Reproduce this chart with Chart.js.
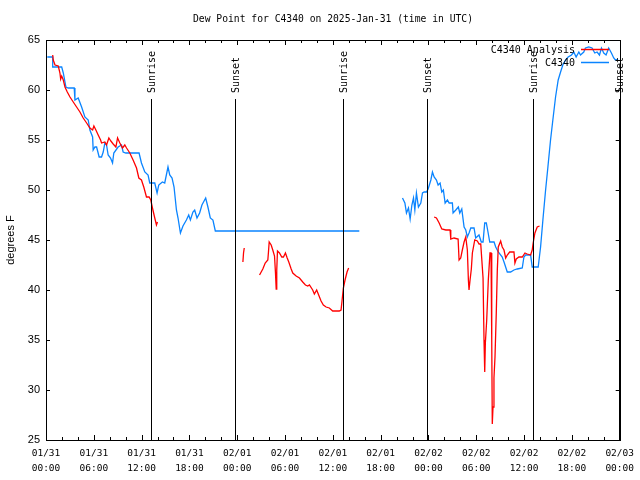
<!DOCTYPE html>
<html>
<head>
<meta charset="utf-8">
<script src="https://cdn.jsdelivr.net/npm/chart.js@4.4.1/dist/chart.umd.min.js"></script>
<style>
  html, body { margin: 0; padding: 0; background: #fff; }
  canvas { display: block; }
</style>
</head>
<body>
<canvas id="GraficoDewPoint" width="640" height="480"></canvas>
<script>
// horas desde 01/31 00:00 UTC
const diasEje = ["01/31", "01/31", "01/31", "01/31", "02/01", "02/01", "02/01", "02/01", "02/02", "02/02", "02/02", "02/02", "02/03"];
const horasEje = ["00:00", "06:00", "12:00", "18:00", "00:00", "06:00", "12:00", "18:00", "00:00", "06:00", "12:00", "18:00", "00:00"];

const eventosSol = ["Sunrise", "Sunset", "Sunrise", "Sunset", "Sunrise", "Sunset"];
const horasSol = [13.14, 23.78, 37.23, 47.87, 61.15, 71.92];

// C4340 (observacion)
const obsHoras = [0.16, 0.84, 0.84, 1.97, 2.17, 2.50, 2.79, 3.54, 3.63, 4.04, 4.47, 4.88, 5.30, 5.51, 5.85, 5.92,
  6.14, 6.35, 6.67, 6.97, 7.18, 7.39, 7.60, 7.80, 8.10, 8.35, 8.51, 9.05, 9.48, 9.68, 10.02, 11.68,
  11.98, 12.40, 12.81, 13.02, 13.65, 13.94, 14.15, 14.61, 14.90, 15.31, 15.53, 15.82, 16.07, 16.37, 16.57, 16.87,
  17.19, 17.62, 17.91, 18.12, 18.44, 18.66, 18.95, 19.28, 19.57, 20.04, 20.32, 20.62, 20.95, 21.25, 39.32,
  42.0,
  44.74, 45.04, 45.24, 45.49, 45.70, 45.92, 46.12, 46.29, 46.49, 46.74, 47.04, 47.25, 47.46, 47.75, 47.96, 48.30,
  48.50, 48.71, 49.00, 49.21, 49.46, 49.67, 49.87, 50.09, 50.38, 50.59, 51.00, 51.09, 51.43, 51.75, 51.93, 52.18,
  52.47, 52.68, 52.88, 53.09, 53.31, 53.72, 53.93, 54.34, 54.63, 54.85, 55.06, 55.26, 55.47, 55.69, 56.23, 56.44,
  56.76, 57.26, 57.48, 57.89, 58.31, 58.73, 59.14, 59.77, 59.98, 60.19, 60.82, 61.02, 61.77, 62.07, 62.36, 62.70,
  62.99, 63.32, 63.61, 63.95, 64.28, 64.58, 64.86, 65.20, 65.53, 65.95, 66.24, 66.53, 66.87, 67.08, 67.49, 67.70,
  68.12, 68.53, 68.87, 69.16, 69.46, 69.71, 70.00, 70.29, 70.62, 70.96, 71.25, 71.46, 71.79];
const obsValores = [63.3, 63.3, 62.3, 62.3, 61.7, 60.3, 60.2, 60.2, 59.0, 59.2, 58.3, 57.3, 57.0, 56.0, 55.3, 54.0,
  54.3, 54.3, 53.3, 53.3, 53.8, 54.7, 54.5, 53.5, 53.2, 52.7, 53.7, 54.3, 54.5, 53.8, 53.7, 53.7,
  52.7, 51.8, 51.5, 50.7, 50.7, 49.7, 50.5, 50.8, 50.7, 52.3, 51.5, 51.2, 50.3, 48.0, 47.2, 45.7,
  46.4, 47.0, 47.5, 47.0, 47.8, 48.0, 47.2, 47.7, 48.5, 49.2, 48.3, 47.2, 47.0, 45.9, 45.9,
  null,
  49.2, 48.7, 47.7, 48.2, 47.1, 48.5, 49.2, 48.0, 49.7, 48.3, 48.7, 49.7, 49.8, 49.8, 50.1, 51.0,
  51.8, 51.3, 51.0, 50.5, 50.7, 49.8, 50.0, 48.7, 49.0, 48.7, 48.7, 47.7, 48.0, 48.3, 47.7, 48.1,
  46.3, 46.0, 45.3, 45.7, 46.2, 46.2, 45.2, 45.5, 44.8, 44.8, 46.7, 46.7, 45.8, 44.8, 44.8, 44.3,
  43.8, 43.3, 42.8, 41.8, 41.8, 42.0, 42.1, 42.2, 43.3, 43.5, 43.5, 42.3, 42.3, 44.3, 47.0, 50.0,
  52.3, 55.0, 57.0, 59.3, 61.0, 61.8, 62.5, 63.0, 63.3, 63.5, 63.8, 63.3, 63.8, 63.5, 63.8, 64.2,
  64.3, 64.2, 63.7, 63.8, 63.5, 64.2, 63.7, 63.5, 64.2, 63.7, 63.2, 63.0, 63.1];

// C4340 Analysis
const anaHoras = [0.84, 0.91, 1.13, 1.54, 1.75, 1.84, 1.97, 2.17, 2.38, 2.67, 3.01, 3.42, 3.84, 4.26, 4.67, 5.10,
  5.51, 5.85, 6.01, 6.26, 6.55, 6.85, 6.97, 7.39, 7.60, 7.89, 8.14, 8.43, 8.77, 8.98, 9.27, 9.60,
  9.89, 10.11, 10.52, 10.93, 11.36, 11.65, 11.98, 12.27, 12.61, 12.94, 13.15, 13.36, 13.65, 13.86, 13.99,
  19.0,
  24.71, 24.79, 24.88,
  25.8,
  26.80, 27.21, 27.51, 27.84, 27.92, 28.01, 28.26, 28.46, 28.68, 28.80, 28.89, 28.96, 29.05, 29.30, 29.59, 29.80,
  30.05, 30.27, 30.47, 30.77, 30.97, 31.39, 31.81, 32.22, 32.56, 32.85, 33.06, 33.47, 33.68, 33.97, 34.22, 34.52,
  34.81, 35.15, 35.56, 35.98, 36.81, 37.03, 37.15, 37.32, 37.53, 37.78, 37.98,
  43.0,
  48.71, 49.00, 49.34, 49.67, 50.18, 50.71, 50.80, 51.21, 51.72, 51.84, 52.05, 52.25, 52.47, 52.68, 52.88, 53.01,
  53.09, 53.22, 53.38, 53.51, 53.81, 54.13, 54.35, 54.56, 54.85, 54.97, 55.06, 55.14, 55.31, 55.51, 55.72, 55.85,
  55.94, 56.01, 56.10, 56.22, 56.35, 56.51, 56.64, 56.76, 57.06, 57.26, 57.48, 57.69, 57.89, 58.19, 58.73, 58.85,
  59.02, 59.35, 59.77, 60.11, 60.39, 60.82, 61.02, 61.14, 61.36, 61.65, 61.94];
const anaValores = [63.5, 63.0, 62.5, 62.4, 61.7, 61.1, 61.4, 61.0, 60.3, 59.8, 59.3, 58.8, 58.3, 57.8, 57.2, 56.7,
  56.2, 56.0, 56.4, 56.0, 55.5, 55.0, 54.7, 54.8, 54.5, 55.2, 54.9, 54.6, 54.3, 55.2, 54.7, 54.2,
  54.5, 54.2, 53.7, 53.0, 52.2, 51.2, 51.0, 50.3, 49.3, 49.3, 49.0, 48.2, 47.2, 46.5, 46.8,
  null,
  42.8, 43.7, 44.2,
  null,
  41.5, 42.1, 42.7, 43.0, 43.8, 44.8, 44.5, 44.0, 43.4, 41.7, 40.1, 42.0, 43.9, 43.7, 43.3, 43.3,
  43.7, 43.2, 42.8, 42.1, 41.7, 41.4, 41.2, 40.8, 40.5, 40.4, 40.5, 40.0, 39.6, 40.0, 39.5, 38.9,
  38.5, 38.3, 38.2, 37.9, 37.9, 38.0, 38.9, 40.2, 41.0, 41.8, 42.2,
  null,
  47.3, 47.2, 46.7, 46.1, 46.0, 46.0, 45.1, 45.2, 45.1, 43.0, 43.2, 44.0, 44.8, 45.3, 44.0, 41.0,
  40.0, 41.0, 42.1, 43.7, 45.0, 44.9, 44.6, 44.6, 41.2, 35.0, 31.8, 34.7, 37.0, 41.0, 43.7, 43.7,
  35.0, 26.6, 28.3, 31.2, 33.3, 37.7, 42.0, 44.3, 44.9, 44.3, 44.0, 43.2, 43.5, 43.8, 43.8, 42.7,
  43.1, 43.3, 43.3, 43.7, 43.6, 43.5, 44.0, 44.7, 45.7, 46.3, 46.4];

const fuenteMono = "'DejaVu Sans Mono', 'Liberation Mono', monospace";
const fuenteSans = "'Liberation Sans', Arial, sans-serif";
const colorObs = "#0a84ff";
const colorAna = "#ff0000";

function Puntos(horas, valores) {
    let puntos = [];
    for (let i = 0; i < horas.length; i++) {
        puntos.push({ x: horas[i], y: valores[i] });
    }
    return puntos;
}

// marcas hacia adentro, como gnuplot, y el borde del grafico
const pluginMarcas = {
    id: 'marcas',
    afterDatasetsDraw(chart) {
        const ctx = chart.ctx;
        const area = chart.chartArea;
        const x = chart.scales.x;
        const y = chart.scales.y;
        ctx.save();
        ctx.strokeStyle = "#000";
        ctx.lineWidth = 1;
        ctx.beginPath();
        for (let h = x.min; h <= x.max; h += 2) {
            let px = Math.round(x.getPixelForValue(h)) + 0.5;
            let largo = (h % 6 === 0) ? 5 : 3;
            ctx.moveTo(px, area.bottom);
            ctx.lineTo(px, area.bottom - largo);
            ctx.moveTo(px, area.top);
            ctx.lineTo(px, area.top + largo);
        }
        y.ticks.forEach(function (t) {
            let py = Math.round(y.getPixelForValue(t.value)) + 0.5;
            ctx.moveTo(area.left, py);
            ctx.lineTo(area.left + 4, py);
            ctx.moveTo(area.right, py);
            ctx.lineTo(area.right - 4, py);
        });
        ctx.stroke();
        ctx.strokeRect(Math.round(area.left) + 0.5, Math.round(area.top) + 0.5,
            Math.round(area.right - area.left), Math.round(area.bottom - area.top));

        // lineas de salida y puesta del sol
        ctx.font = "10px " + fuenteMono;
        ctx.fillStyle = "#000";
        for (let i = 0; i < horasSol.length; i++) {
            let px = Math.round(x.getPixelForValue(horasSol[i])) + 0.5;
            ctx.beginPath();
            ctx.moveTo(px, area.top + 59);
            ctx.lineTo(px, area.bottom);
            ctx.stroke();
            ctx.save();
            ctx.translate(px + 1, area.top + 53);
            ctx.rotate(-Math.PI / 2);
            ctx.textAlign = "left";
            ctx.textBaseline = "middle";
            ctx.fillText(eventosSol[i], 0, 0);
            ctx.restore();
        }

        // leyenda
        const series = chart.data.datasets;
        ctx.textAlign = "right";
        ctx.textBaseline = "middle";
        for (let i = 0; i < series.length; i++) {
            let ly = area.top + 10 + i * 13;
            ctx.fillStyle = "#000";
            ctx.fillText(series[i].label, 575, ly);
            ctx.strokeStyle = series[i].borderColor;
            ctx.lineWidth = 1.5;
            ctx.beginPath();
            ctx.moveTo(581, ly - 0.5);
            ctx.lineTo(609, ly - 0.5);
            ctx.stroke();
        }
        ctx.restore();
    }
};

const pluginTitulo = {
    id: 'titulo',
    beforeDraw(chart) {
        const ctx = chart.ctx;
        ctx.save();
        ctx.fillStyle = "#fff";
        ctx.fillRect(0, 0, chart.width, chart.height);
        ctx.fillStyle = "#000";
        ctx.font = "9.7px " + fuenteMono;
        ctx.textAlign = "center";
        ctx.textBaseline = "middle";
        ctx.fillText("Dew Point for C4340 on 2025-Jan-31 (time in UTC)", 333, 19);
        ctx.restore();
    }
};

const ctx = document.getElementById("GraficoDewPoint");
const graficoDewPoint = new Chart(ctx, {
    type: 'line',
    data: {
        datasets: [{
            label: 'C4340 Analysis',
            data: Puntos(anaHoras, anaValores),
            borderColor: colorAna,
            borderWidth: 1.3,
            pointRadius: 0,
            spanGaps: false,
            tension: 0
        }, {
            label: 'C4340',
            data: Puntos(obsHoras, obsValores),
            borderColor: colorObs,
            borderWidth: 1.3,
            pointRadius: 0,
            spanGaps: false,
            tension: 0
        }]
    },
    options: {
        responsive: false,
        animation: false,
        devicePixelRatio: 1,
        layout: { padding: { top: 40, right: 19, left: 0, bottom: 0 } },
        plugins: {
            legend: { display: false },
            title: { display: false },
            tooltip: { enabled: false }
        },
        scales: {
            x: {
                type: 'linear',
                min: 0,
                max: 72,
                grid: { display: false, drawTicks: false },
                border: { display: false },
                afterFit: function (scale) { scale.height = 40; },
                ticks: {
                    stepSize: 6,
                    padding: 6,
                    maxRotation: 0,
                    autoSkip: false,
                    color: "#000",
                    font: { family: fuenteMono, size: 9.5, lineHeight: 1.55 },
                    callback: function (valor) {
                        let i = Math.round(valor / 6);
                        return [diasEje[i], horasEje[i]];
                    }
                }
            },
            y: {
                min: 25,
                max: 65,
                grid: { display: false, drawTicks: false },
                border: { display: false },
                afterFit: function (scale) { scale.width = 46; },
                title: {
                    display: true,
                    text: 'degrees F',
                    color: "#000",
                    padding: 4,
                    font: { family: fuenteSans, size: 11 }
                },
                ticks: {
                    stepSize: 5,
                    padding: 6,
                    color: "#000",
                    font: { family: fuenteSans, size: 11 }
                }
            }
        }
    },
    plugins: [pluginTitulo, pluginMarcas]
});
</script>
</body>
</html>
